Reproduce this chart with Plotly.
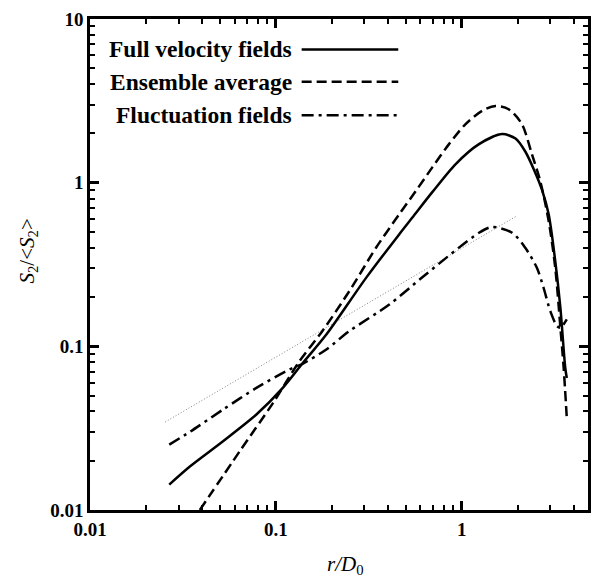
import plotly.graph_objects as go

# ---------- data ----------

full_x = [0.0267, 0.0346, 0.052, 0.0786, 0.109, 0.14, 0.187, 0.306, 0.461, 0.543, 0.695,
          0.929, 1.24, 1.65, 1.95, 2.2, 2.45, 2.71, 2.94, 3.19, 3.40, 3.61, 3.68]
full_y = [0.0143, 0.0185, 0.0263, 0.0383, 0.0557, 0.0793, 0.118, 0.262, 0.483, 0.612, 0.875,
          1.30, 1.72, 1.98, 1.86, 1.55, 1.20, 0.90, 0.641, 0.332, 0.172, 0.074, 0.064]

ens_x = [0.039, 0.064, 0.0965, 0.134, 0.179, 0.249, 0.346, 0.461, 0.567, 0.695, 0.855,
         1.05, 1.29, 1.52, 1.79, 2.11, 2.39, 2.65, 2.94, 3.19, 3.40, 3.54, 3.68]
ens_y = [0.01, 0.0229, 0.045, 0.081, 0.125, 0.218, 0.40, 0.64, 0.89, 1.24, 1.72,
         2.28, 2.75, 2.94, 2.81, 2.28, 1.49, 1.02, 0.583, 0.302, 0.130, 0.074, 0.0365]

fluc_x = [0.0267, 0.0346, 0.052, 0.0786, 0.1186, 0.14, 0.187, 0.249, 0.408, 0.641, 1.24,
          1.46, 1.87, 2.2, 2.54, 2.76, 3.0, 3.26, 3.40, 3.68]
fluc_y = [0.0251, 0.0301, 0.0411, 0.0557, 0.0722, 0.0785, 0.0957, 0.124, 0.180, 0.275, 0.494,
          0.536, 0.494, 0.40, 0.302, 0.228, 0.164, 0.133, 0.130, 0.146]

ref_x = [0.0254, 1.95]
ref_y = [0.0345, 0.62]

names = ["Full velocity fields", "Ensemble average", "Fluctuation fields"]
dashes = ["solid", "10px,5px", "12px,5px,3px,5px"]

x_ticks = [0.01, 0.1, 1]
x_labels = ["0.01", "0.1", "1"]
y_ticks = [0.01, 0.1, 1, 10]
y_labels = ["0.01", "0.1", "1", "10"]

FONT = "Liberation Serif"
X_RANGE = [-2, 0.68]
Y_RANGE = [-2, 1]

fig = go.Figure()

fig.add_trace(go.Scatter(x=ref_x, y=ref_y, mode="lines",
                         line=dict(color="#808080", width=1, dash="1px,2px")))

for (xs, ys), dash in zip([(full_x, full_y), (ens_x, ens_y), (fluc_x, fluc_y)], dashes):
    fig.add_trace(go.Scatter(x=xs, y=ys, mode="lines",
                             line=dict(color="black", width=2.5, dash=dash,
                                       shape="spline", smoothing=0.8)))

# ---------- hand made legend: text on the left, line sample on the right ----------

rows = [0.938, 0.872, 0.804]
for name, dash, yy in zip(names, dashes, rows):
    fig.add_annotation(x=0.409, y=yy, xref="paper", yref="paper", text=name,
                       showarrow=False, xanchor="right", yanchor="middle",
                       font=dict(family=FONT, size=23.5, color="black", weight="bold"))
    fig.add_shape(type="line", xref="paper", yref="paper", x0=0.425, x1=0.619,
                  y0=yy, y1=yy, line=dict(color="black", width=2.5, dash=dash))

# axis titles
fig.add_annotation(x=0.513, y=-0.113, xref="paper", yref="paper", showarrow=False,
                   text="<i>r/D</i><sub>0</sub>", xanchor="center", yanchor="middle",
                   font=dict(family=FONT, size=21, color="black"))
fig.add_annotation(x=-0.124, y=0.527, xref="paper", yref="paper", showarrow=False,
                   text="<i>S</i><sub>2</sub>/&lt;<i>S</i><sub>2</sub>&gt;", textangle=-90,
                   xanchor="center", yanchor="middle",
                   font=dict(family=FONT, size=21, color="black"))


def minor_vals(lo, hi):
    vals = []
    d = lo
    while d < hi:
        vals += [d * k for k in range(2, 10)]
        d *= 10
    return vals


axis_common = dict(
    type="log", showgrid=False, zeroline=False, showline=True, linecolor="black",
    linewidth=2.5, mirror="allticks", ticks="inside", ticklen=9, tickwidth=2.5,
    tickcolor="black", tickmode="array",
    tickfont=dict(family=FONT, size=19, color="black", weight="bold"),
    minor=dict(ticks="inside", ticklen=5, tickwidth=2, tickcolor="black",
               tickvals=minor_vals(0.01, 10), showgrid=False),
)

fig.update_layout(
    xaxis=dict(**axis_common, range=X_RANGE, tickvals=x_ticks, ticktext=x_labels),
    yaxis=dict(**axis_common, range=Y_RANGE, tickvals=y_ticks, ticktext=y_labels),
    width=593, height=578,
    margin=dict(l=90, r=2, t=19, b=68),
    paper_bgcolor="white", plot_bgcolor="white",
    showlegend=False,
)

fig.write_html("out.html", config={"displayModeBar": False},
               post_script="document.body.style.margin='0px';")
